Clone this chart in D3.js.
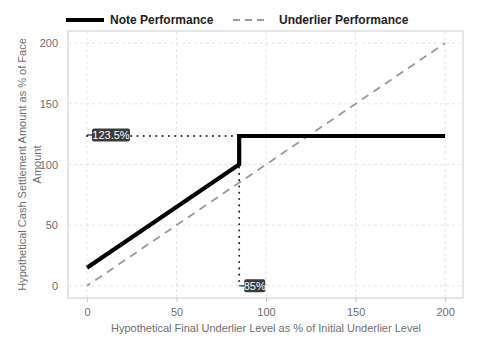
<!DOCTYPE html>
<html><head><meta charset="utf-8">
<script src="https://cdn.jsdelivr.net/npm/d3@7"></script>
<style>body{margin:0;background:#fff}svg{display:block;font-family:"Liberation Sans",Arial,sans-serif}</style>
</head><body><svg id="c" width="480" height="360"></svg>
<script>
const notePoints = [{x:0,y:15},{x:85,y:100},{x:85,y:123.5},{x:200,y:123.5}];
const underlierPoints = [{x:0,y:0},{x:200,y:200}];
const xTicks = [0,50,100,150,200];
const yTicks = [0,50,100,150,200];
const barrier = 85;
const capLevel = 123.5;
const seriesNames = ["Note Performance","Underlier Performance"];
const yTitleLines = ["Hypothetical Cash Settlement Amount as % of Face","Amount"];

const svg = d3.select("#c");
const L=68,R=463,T=31,B=298;
const x = d3.scaleLinear().domain([-10.6,210]).range([L,R]);
const y = d3.scaleLinear().domain([-10,210]).range([B,T]);
const g = svg.append("g");

// grid
g.selectAll(".gx").data(xTicks).join("line").attr("x1",d=>x(d)).attr("x2",d=>x(d)).attr("y1",T).attr("y2",B)
 .attr("stroke","#dedede").attr("stroke-width",0.8).attr("stroke-dasharray","3,3");
g.selectAll(".gy").data(yTicks).join("line").attr("y1",d=>y(d)).attr("y2",d=>y(d)).attr("x1",L).attr("x2",R)
 .attr("stroke","#dedede").attr("stroke-width",0.8).attr("stroke-dasharray","3,3");

// axes
const xa = svg.append("g").attr("transform",`translate(0,${B})`).call(d3.axisBottom(x).tickValues(xTicks).tickSize(4).tickPadding(6));
const ya = svg.append("g").attr("transform",`translate(${L},0)`).call(d3.axisLeft(y).tickValues(yTicks).tickSize(0).tickPadding(10));
[xa,ya].forEach(a=>{a.select(".domain").remove();a.selectAll("line").attr("stroke","#c8c8c8");
 a.selectAll("text").attr("fill","#6e6e6e").style("font-size","11px").style("font-family","Liberation Sans, Arial, sans-serif");});

// border
svg.append("rect").attr("x",L).attr("y",T).attr("width",R-L).attr("height",B-T).attr("fill","none").attr("stroke","#c9cdd4").attr("stroke-width",1);

const line = d3.line().x(d=>x(d.x)).y(d=>y(d.y));
// underlier
svg.append("path").attr("d",line(underlierPoints)).attr("fill","none").attr("stroke","#999999").attr("stroke-width",1.8).attr("stroke-dasharray","8,6").attr("stroke-dashoffset",4);
// dotted reference lines
svg.append("path").attr("d",line([{x:0,y:capLevel},{x:barrier,y:capLevel}])).attr("fill","none").attr("stroke","#1c2a44").attr("stroke-width",2).attr("stroke-dasharray","0.1,6.2").attr("stroke-linecap","round");
svg.append("path").attr("d",line([{x:barrier,y:capLevel},{x:barrier,y:0}])).attr("fill","none").attr("stroke","#1c2a44").attr("stroke-width",2).attr("stroke-dasharray","0.1,6.2").attr("stroke-linecap","round");
// note
svg.append("path").attr("d",line(notePoints)).attr("fill","none").attr("stroke","#000").attr("stroke-width",4.2).attr("stroke-linejoin","miter");

// labels
function tag(px,py,text,w){
  svg.append("line").attr("x1",px).attr("x2",px+6).attr("y1",py).attr("y2",py).attr("stroke","#222").attr("stroke-width",1.2);
  svg.append("rect").attr("x",px+5).attr("y",py-6.5).attr("width",w).attr("height",13).attr("rx",2).attr("fill","#3a3a3a");
  svg.append("text").attr("x",px+5+w/2).attr("y",py+4).attr("text-anchor","middle").attr("fill","#fff").style("font-size","11px").text(text);
}
tag(x(0),y(capLevel)-1,capLevel+"%",38);
tag(x(barrier),y(0),barrier+"%",21);

// axis titles
svg.append("text").attr("x",266).attr("y",332).attr("text-anchor","middle").attr("fill","#6e6e6e").style("font-size","11px")
 .text("Hypothetical Final Underlier Level as % of Initial Underlier Level");
const ytg = svg.append("g").attr("transform",`translate(25.5,${(T+B)/2}) rotate(-90)`);
ytg.selectAll("text").data(yTitleLines).join("text")
  .attr("x",0).attr("y",(d,i)=>i*15.5).attr("text-anchor","middle")
  .attr("fill","#6e6e6e").style("font-size","11px").text(d=>d);

// legend
const lg = svg.append("g");
lg.append("line").attr("x1",66).attr("x2",104).attr("y1",20).attr("y2",20).attr("stroke","#000").attr("stroke-width",4.2);
lg.append("text").attr("x",110).attr("y",24).style("font-size","12px").style("font-weight","bold").attr("fill","#222").text(seriesNames[0]);
lg.append("line").attr("x1",233).attr("x2",269).attr("y1",20).attr("y2",20).attr("stroke","#999").attr("stroke-width",1.8).attr("stroke-dasharray","7,5");
lg.append("text").attr("x",279).attr("y",24).style("font-size","12px").style("font-weight","bold").attr("fill","#222").text(seriesNames[1]);
</script></body></html>
